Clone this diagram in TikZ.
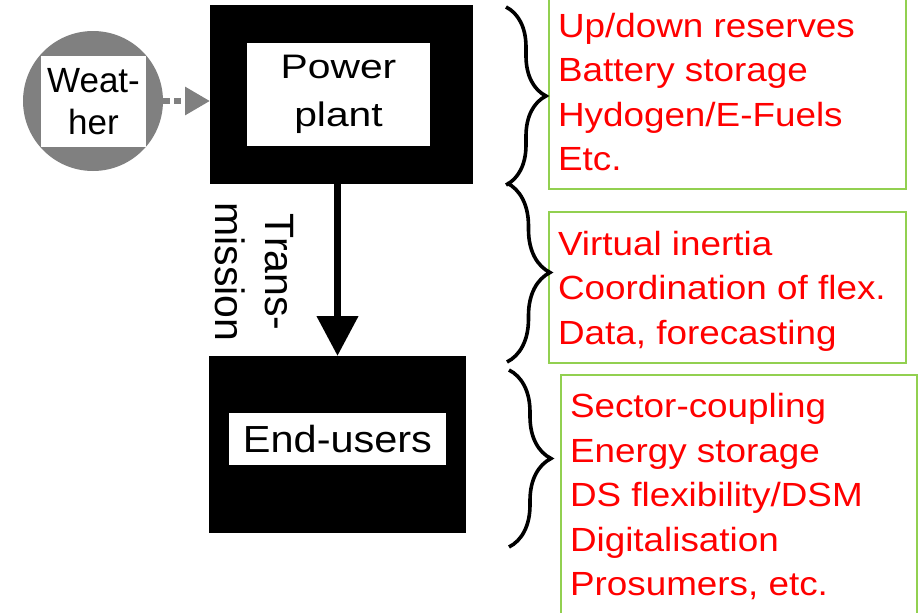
\documentclass[tikz,border=0pt]{standalone}
\usepackage{fontspec}
\setmainfont{Liberation Sans}
\newfontfamily\flexfont[FakeStretch=1.1]{Liberation Sans}
\newfontfamily\plantfont[FakeStretch=1.2]{Liberation Sans}
\usepackage{xcolor}
\usetikzlibrary{arrows.meta, decorations.pathreplacing}
\definecolor{flexgreen}{RGB}{146,208,80}
\definecolor{wxgray}{RGB}{128,128,128}

\begin{document}
\begin{tikzpicture}[
    x=1pt, y=-1pt,
    every node/.style={inner sep=0pt, outer sep=0pt},
    blackbox/.style={fill=black},
    whitebox/.style={fill=white, align=center},
    flexbox/.style={draw=flexgreen, line width=2pt, anchor=north west},
    flexlist/.style={text=red, align=left, anchor=west, font=\flexfont\fontsize{33.5}{44.5}\selectfont},
    flexbrace/.style={draw, line width=3.6pt, decorate, decoration={brace, amplitude=#1}}
]
\useasboundingbox (0,0) rectangle (922,613);

\node[circle, fill=wxgray, minimum size=140pt] (wxcirc) at (93,101) {};
\node[whitebox, minimum width=105pt, minimum height=91pt, font=\fontsize{35}{42}\selectfont] (wxlbl) at (93.5,101.5) {Weat-\\her};

\node[blackbox, minimum width=263pt, minimum height=179pt] (ppbox) at (341.5,94.5) {};
\node[whitebox, minimum width=183pt, minimum height=103pt, font=\plantfont\fontsize{34}{48}\selectfont] (pplbl) at (338.5,94.5) {Power\\plant};

\node[blackbox, minimum width=257pt, minimum height=177pt] (eubox) at (337.5,444.5) {};
\node[whitebox, minimum width=217pt, minimum height=52pt, font=\flexfont\fontsize{37.7}{44}\selectfont] (eulbl) at (337.5,439) {End-users};

\draw[wxgray, line width=6pt, dash pattern=on 7pt off 4pt, -{Triangle[length=25pt, width=27pt]}] (wxcirc.east) -- (wxcirc.east -| ppbox.west);
\draw[line width=7.5pt, -{Triangle[length=40pt, width=40pt]}] (ppbox.south -| eubox) -- (eubox.north);
\node[rotate=-90, align=center, font=\fontsize{41}{50}\selectfont] (trlbl) at (254.5,272) {Trans-\\mission};

\node[flexbox, minimum width=357pt, minimum height=191pt] (flexgen) at (549,-2) {};
\node[flexbox, minimum width=357pt, minimum height=151pt] (flexgrid) at (549,212) {};
\node[flexbox, minimum width=356pt, minimum height=250pt] (flexuse) at (561,375) {};

\node[flexlist] (gentxt) at (558,92) {Up/down reserves\\Battery storage\\Hydogen/E-Fuels\\Etc.};
\node[flexlist] (gridtxt) at (558,291) {Virtual inertia\\Coordination of flex.\\Data, forecasting};
\node[flexlist] (usetxt) at (570,497) {Sector-coupling\\Energy storage\\DS flexibility/DSM\\Digitalisation\\Prosumers, etc.};

\draw[flexbrace=40pt] (506,7) -- (506,185);
\draw[flexbrace=43pt] (507,183) -- (507,362);
\draw[flexbrace=42pt] (509,370) -- (509,547);
\end{tikzpicture}
\end{document}
